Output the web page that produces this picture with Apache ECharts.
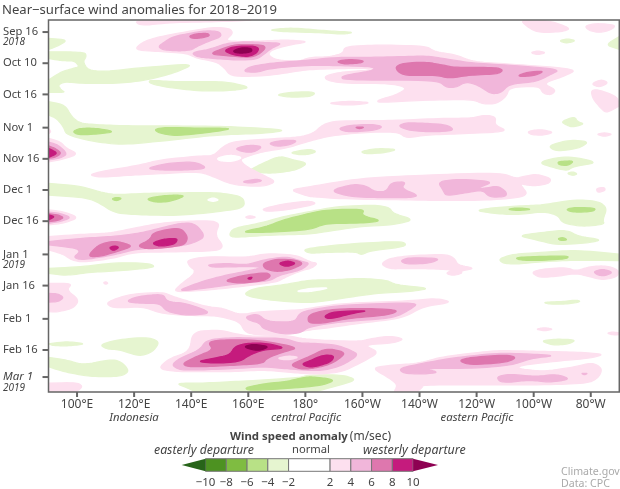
<!DOCTYPE html>
<html><head><meta charset="utf-8">
<style>html,body{margin:0;padding:0;background:#fff}#c{width:620px;height:489px}</style>
<script src="https://cdn.jsdelivr.net/npm/echarts@6/dist/echarts.min.js"></script>
</head><body><div id="c"></div>
<script>
// Axis ticks. Y values are days counted from 16 Sep 2018.
const lonTicks = [100,120,140,160,180,200,220,240,260,280];
const lonLabels = ['100°E','120°E','140°E','160°E','180°','160°W','140°W','120°W','100°W','80°W'];
const dayTicks = [0,15,30,46,61,76,91,107,122,138,153,166];
const dayLabels = ['Sep 16','Oct 10','Oct 16','Nov 1','Nov 16','Dec 1','Dec 16','Jan 1','Jan 16','Feb 1','Feb 16','Mar 1'];
const yearTicks = [5.1,112,171.4];
const yearLabels = ['2018','2019','2019'];
const lonMin = 90, lonMax = 290, dayMin = -5.8, dayMax = 173.2;
// Colour scale
const scaleEdges = [-10,-8,-6,-4,-2,2,4,6,8,10];
const scaleLabels = ['−10','−8','−6','−4','−2','2','4','6','8','10'];
const scaleColors = ['#4d9221','#7fbc41','#b8e186','#e6f5d0','#ffffff','#fde0ef','#f1b6da','#de77ae','#c51b7d'];
const colorLow = '#276419', colorHigh = '#8e0152';

// Contours: each ring is a list of [longitude, day]
const anomalyM2 = [ // -4..-2 m/s
[[90,3],[96.9,3.8],[92.8,7],[90,8.3]],
[[90,9.5],[96.8,9.5],[102.9,9.9],[103.2,11.9],[102.1,14.3],[103.8,18.3],[109.6,19.1],[119.7,17.5],[141.9,15],[133.7,19.9],[124.3,23.1],[115,24.7],[101.5,24.7],[95.6,23.9],[93.3,25.5],[94.5,27.9],[95.9,29],[90,29],[90,23.1],[94.5,19.1],[98.6,17.5],[100.9,16.7],[99.1,13.8],[94.5,13.8],[90,12.7]],
[[125.2,23.1],[133.7,23.9],[143,23.9],[152.4,23.9],[161.1,26.6],[154.7,28.2],[143,28.4],[131.4,26.6],[125.5,24.7]],
[[169.6,30.3],[174.5,29],[181.5,28.7],[183.6,29.5],[181.5,31.1],[174.5,31.4]],
[[166.9,-1],[174.5,-2],[181.5,-1.3],[188.5,-.5],[197.3,.1],[193.2,1.1],[186.2,.3],[172,-.2]],
[[90,33.5],[95.8,35.1],[98.1,40.7],[101,43.9],[108,44.7],[119.7,45.2],[138.4,45.2],[154.7,45.5],[174,47.1],[166.4,48.7],[148.9,49.5],[133.7,51.9],[116.2,54.3],[105.7,52.7],[96.3,49.5],[95.2,45.5],[92.8,41.5],[90,39.9]],
[[174.3,58],[181.5,56.3],[184,57.5],[181.5,58.8],[178,59.1]],
[[160.3,66.4],[165.2,63.1],[171,59.6],[175.7,61.5],[181,63.1],[176.9,66.4],[168.7,68],[162.9,67.5]],
[[199.2,57.5],[204.8,56],[212.4,56.4],[208.3,58],[201.3,58.7]],
[[268.8,4.2],[271.9,3.2],[274.9,4.2],[271.4,5.4]],
[[285.1,6.2],[290,2.2],[290,8.3]],
[[269.6,43.1],[274.3,40.7],[275.4,43.1],[277.8,44.2],[273.7,45.8],[271.4,44.7]],
[[264.9,54.7],[272.5,51.9],[279.5,52.7],[276,55.9],[267.9,57.5]],
[[261.1,62.7],[271.4,59.5],[283,62.7],[273.7,64.8],[271.9,66.7],[267.9,65.6]],
[[271.6,68],[273.7,67.2],[275.4,68.3],[273.7,69.1]],
[[90,72.8],[101,74],[111.5,78.4],[124.3,77.6],[138.4,77.3],[150,77.3],[158.2,79.2],[158.8,84.5],[150,86.4],[136,88.3],[123.2,88],[113.3,87.2],[108,82.4],[103.3,79.7],[90,78.4]],
[[153.3,97.6],[154.7,94.4],[164,92],[172.2,88.8],[181.5,86.4],[190.8,84],[204.8,83.2],[209.5,84.5],[210.7,87.2],[218.3,90.4],[210.7,92.8],[199,93.6],[187.3,96],[181.5,97.3],[168.7,97.6],[154.7,98.9]],
[[179.4,105],[181.5,104],[193.2,102.1],[214.2,100.5],[215.6,103.2],[202.5,105.3],[199.6,107.3],[197.8,105.7],[187.3,106],[181.5,106.5]],
[[239.6,85.9],[245.7,84.5],[257.4,83.5],[263.2,83.2],[274.9,80.5],[283,81.6],[285.7,84.8],[284.2,90.4],[284.8,92.5],[277.2,93.6],[270.2,92],[268.4,88],[263.2,86.4],[253.9,88],[245.7,87.2]],
[[254.4,98],[263.2,96.4],[271.4,95.2],[276,98.4],[284.2,100],[278.4,101.6],[267.9,102.4],[260.9,100]],
[[247.7,109.2],[252.7,106.9],[263.2,106],[274.9,104.9],[290,106.9],[290,110],[274.9,109.7],[263.2,110.5],[253.9,111.7],[249.2,111.3]],
[[90,113.7],[102,112.9],[113.8,110.9],[125.5,111.3],[127.6,113.3],[113.8,115],[104.5,115.6],[96.3,117.2],[90,116.1]],
[[263.2,130],[270.2,129.7],[274.9,128.9],[276.6,129.7],[272.5,130.8],[265.5,131]],
[[262.4,148.6],[267.9,147.7],[274.9,148.1],[272.5,150.1],[266.7,150.7]],
[[188.5,119.3],[199,118.5],[208.3,119.3],[211.8,121.7],[224.1,123.3],[216.5,124.9],[204.8,125.7],[193.2,128.1],[181.5,130.5],[166.4,128.9],[158,126.5],[161.7,123.3],[172.2,121.7],[181.5,119.3]],
[[90,150],[96.3,148.9],[103.3,150],[97.5,151],[91.7,150.9]],
[[108,150.5],[113.8,148.1],[124.3,146.8],[129,148.9],[126.7,153.7],[122,156.1],[115,152.9],[110.3,152.5]],
[[90,156.5],[96.3,157.8],[102.2,160.2],[112.7,157.3],[116.2,159.4],[118.3,163.4],[115,165.8],[104.5,165.8],[95.2,163.4],[90,161]],
[[134.6,169],[143,169],[154.7,168.2],[166.4,167.4],[178,166.2],[181.5,165],[193.2,165],[198.2,167.4],[190.2,170.6],[185,172.5],[181.5,174],[143,174],[138.4,171.1]]
];
const anomalyM4 = [ // -6..-4 m/s
[[98.4,47.9],[101,46.3],[106.8,46.3],[113.3,47.9],[108,49],[100.4,49.5]],
[[126.9,46.8],[131.4,45.8],[143,46.3],[154.7,46.3],[148.9,47.9],[134.9,50],[129,48.7]],
[[268.4,62.3],[274.3,61.9],[272,64.3],[268.8,63.9]],
[[124.1,80.3],[129,78.9],[134.9,78.4],[138,78.9],[132.5,81.6],[127.3,81.9]],
[[112.1,80.3],[113.8,79.5],[115.8,80],[113.8,81.3]],
[[157,96.4],[166.4,93.6],[172.2,90.4],[181.5,87.2],[187.3,85.6],[200.8,85.1],[199.6,88.3],[207.2,90.9],[199,92],[187.3,92],[181.5,95.2],[166.4,96.4]],
[[250.6,85.3],[254.4,84.5],[259.7,85.3],[254.4,85.9]],
[[271.1,85.3],[274.9,84.3],[281.9,84.8],[280.7,86.4],[273.7,86.7]],
[[268.4,99.4],[270.2,98.8],[271.9,100],[269.6,100.4]],
[[253.5,108.5],[260.9,108],[272.5,107.7],[271.4,109.2],[260.9,110],[255,109.7]],
[[158.8,171.1],[166.4,169],[173.4,168.2],[178,166.6],[181.5,165.8],[187.3,166.6],[190.2,167.7],[186.2,169.8],[181.5,170.6],[172.2,171.7],[160,172.5]]
];
const anomalyWhite = [ // holes, -2..2 m/s
[[148.9,60.7],[153.5,59.1],[158.2,60.3],[154.7,62.3],[150,62]],
[[145.4,80.8],[147.7,79.7],[149.8,80.8],[147.7,81.6]],
[[176.3,124.9],[181.5,123.3],[188.5,123],[185,124.1],[181.5,124.9]]
];
const anomalyP2 = [ // 2..4 m/s
[[120,-6],[166,-6],[150,-5],[133,-4.6],[122,-3]],
[[119.9,8.6],[123.2,4.6],[129,2.2],[138.4,-.2],[147.7,-2.3],[153.5,-1.8],[154.7,.6],[151.8,4.2],[158.2,4.6],[166.4,4.2],[173.4,3.8],[181.5,4.6],[174.5,6.2],[168.1,8.6],[166.9,11],[169.9,13.5],[178,14],[181.5,12.2],[188.5,11.9],[193.2,10.2],[193.8,7],[204.8,6.2],[222.3,6.7],[225.3,9.4],[232.8,11],[238.7,14.3],[251.5,15.4],[275.8,17.8],[270.2,21.5],[263.2,24.7],[267.9,27.9],[266.1,30.3],[263.2,29.5],[262,26],[251.5,26.6],[250.4,31.1],[246.8,34.6],[242.2,34.6],[238.7,32.4],[222.3,32.7],[205.4,34],[205.4,32.7],[211.8,30.3],[215.9,26.8],[209.5,24.7],[193.2,24.7],[187.3,23.1],[186.8,21.1],[193.2,19.1],[203.7,18.3],[204.3,17.5],[193.2,17.5],[181.5,18],[175.7,19.1],[168.7,20.7],[158.2,21.5],[153.5,20.7],[151.8,17.5],[148.9,14.3],[141.9,12.6],[138.4,10.2],[129,9.4]],
[[255,-6],[265.5,-5.5],[273.1,-1.8],[270.2,-.2],[262,.3],[258.5,-1.8]],
[[277.8,-2.9],[281.9,-4.2],[288.9,-3.4],[287.1,-1],[283,.3],[279.5,-.7]],
[[258.8,9.9],[261.4,9],[264.4,9.9],[261.4,11]],
[[280.1,25],[283.6,22.8],[286.3,24.4],[283,26.6]],
[[280.1,28.2],[282.4,27.6],[289.4,31.1],[290,35.6],[285.4,39.1],[283,35.9],[280.7,31.9]],
[[187.1,34.3],[195.5,33.2],[203.7,34],[195.5,35.3]],
[[104.3,68.8],[108,67.2],[122,64],[129,61.5],[143,59.6],[147.7,59.6],[151.2,55.1],[154.7,52.7],[165.2,51.6],[181.5,50.3],[187.3,43.1],[199,42.6],[210.7,42.6],[228.2,41.5],[237.5,41.5],[243.4,39.9],[246.8,41],[246.3,44.7],[251.3,47.9],[234,49],[222.3,49.5],[215.3,51.1],[212.4,47.9],[199,48.4],[188.5,50],[181.5,52.4],[173.4,55.9],[165.2,57.5],[159.4,59.9],[157,61.5],[159.4,64.8],[165.2,68.8],[169.9,72],[165.2,74.4],[154.7,73.6],[147.7,69.6],[143,67.2],[131.4,68],[119.7,68.8],[108,69.9]],
[[257.7,47.9],[262,46.8],[267.3,48.2],[263.2,49.7],[259.1,49.4]],
[[281.9,49.2],[284.8,48.4],[287.7,49.2],[284.8,50.3]],
[[90,51.1],[94,52.7],[96.3,55.9],[100.4,58.7],[95.2,61.2],[90,62.4]],
[[90,46.3],[90.9,47.9],[90,49]],
[[281.9,75.2],[284.8,74.7],[285.1,76.3],[282.4,77.3]],
[[174.3,76],[181.5,74.4],[199,70.4],[222.3,68.8],[248,67.6],[253.9,70.4],[256.2,69.6],[260.9,68.3],[266.1,70.4],[265.5,72.8],[260.9,74],[257.4,73.6],[255,72.8],[258.5,78.9],[246.8,80.8],[228.2,81.1],[220,80.8],[193,80.3],[182.7,79.2],[181.5,79.2]],
[[164.6,85.1],[173.4,82.4],[181.5,81.3],[183.8,82.4],[181.5,83.5],[173.4,85.6],[166.4,86.4]],
[[259.1,115.6],[263.2,114],[271.4,113.3],[274.9,115],[279.5,112.9],[285.4,112.4],[289.8,114.5],[289.4,117.7],[284.2,119.3],[279.5,117.7],[274.9,116.1],[269,117.4],[262,118.2]],
[[206.4,111.6],[209.5,108.9],[216.5,107.6],[229.3,106.9],[232.3,108.9],[233.4,112.1],[239.5,113.7],[234.6,114.9],[234.9,116.1],[231.7,117.2],[229.1,116.1],[231.7,114.5],[225.8,114],[216.5,113.7],[209.5,114]],
[[90,85.6],[95.2,86.4],[100.7,89.3],[95.2,92],[90,92.8]],
[[158.8,89.1],[160.5,88.3],[162.9,89.1],[160.5,89.8]],
[[90,98.4],[102,97.3],[111.5,96.8],[119.7,94.4],[129,92],[138.4,90.9],[150.3,90.9],[148.3,97.6],[151.4,103.2],[148.9,105.3],[136,105.7],[119.7,106],[112.7,108.9],[102,110.8],[98.1,109.7],[95.2,106.9],[90,104.8]],
[[90,120.9],[98.4,120.9],[96.3,124.1],[100.8,128.9],[98.7,132.9],[92.8,134.8],[90,134.5]],
[[109.2,120.6],[110.1,120.1],[110.9,120.9],[110,121.4]],
[[138.4,109.7],[145.4,108],[159.4,108.5],[166.4,106.5],[176.9,107.3],[181.5,110.5],[184.4,111.3],[182.1,113.7],[179.2,114.5],[173.4,117.7],[169.9,120.4],[157,122.5],[146.5,124.1],[133.7,125.2],[136,121.7],[140.7,116.9],[141.3,114.5],[139.5,112.9]],
[[110.1,130.5],[113.8,128.1],[119.7,126],[130.2,125.2],[133.7,127.3],[139.5,129.7],[145.4,132.1],[151.2,132.9],[157,136.1],[164,134.5],[178,133.7],[181.5,132.9],[193.2,130.5],[216.5,129.4],[225.8,128.1],[231.7,130],[221.2,132.1],[214.2,137.7],[199,140.1],[187.3,142.5],[181.5,143.3],[172.2,145.7],[162.9,145.7],[158.8,144.4],[157,139.3],[148.9,136.4],[138.4,136.4],[129,135.3],[123.2,132.1],[112.7,132.9]],
[[129,161],[132.5,157],[139.5,153.7],[140.5,144.1],[150,143.3],[157,145.7],[162.9,146.5],[172.2,145.7],[181.5,148.1],[199,148.9],[202.5,147.7],[209.5,146.2],[214.8,147.7],[210.7,149.7],[200.2,150.5],[206,154.1],[200.2,158.6],[193.2,163.4],[186.2,164.5],[181.5,164.5],[174.5,163.7],[165.2,162.6],[154.7,163.4],[143,163.4],[136,163.4],[130.2,162.6]],
[[90,169],[99.8,168.6],[102.2,170.6],[98.7,174],[90,174]],
[[203.4,161.8],[208.3,160.5],[220,159.4],[228.2,156.1],[245.7,153.4],[251.5,153.3],[263.2,153.7],[274.9,154],[285.1,155],[279.5,157],[269,158.2],[256.2,160.2],[253.9,161.8],[263.2,163.4],[274.9,161],[280.5,159],[284,161.8],[283,165.8],[279.5,169],[263.2,169.8],[239.9,169.8],[221.2,169.8],[221,171],[218.3,174],[210.7,174],[212.4,169.8],[209.5,166.6]],
[[260.6,143],[263.8,142.2],[267,143],[263.8,143.8]],
[[285.6,144.9],[287.7,144.3],[290,144.8],[290,145.6],[287.7,145.7]]
];
const anomalyP4 = [ // 4..6 m/s
[[128.4,7],[130.8,4.6],[133.7,2.2],[139.5,.6],[145.4,-.7],[150,-.2],[150.6,2.2],[146.5,4.2],[141.9,7],[140.1,8.6],[136,9.1],[130.2,8.6]],
[[140.1,9.9],[146.5,8.3],[152.4,5.4],[159.4,4.6],[166.4,5.1],[172,5.4],[168.1,7.8],[165.2,11],[162.9,13.1],[156.4,13.5],[147.7,12.7],[141.9,11.9]],
[[158.2,19],[160.5,16.7],[167.5,15],[181.5,13.5],[190.8,12.2],[201.3,12.2],[211.8,11.9],[222.3,11.5],[228.2,12.7],[238.7,15],[251.5,15.9],[269.6,18],[265.5,20.7],[260.9,23.9],[251.5,25],[248.6,29.2],[245.1,29.8],[240.4,25.5],[236.3,23.9],[232.8,26.6],[229.3,26.6],[226.4,23.1],[193.2,23.1],[192.6,21.1],[203.7,18.6],[204.3,16.7],[193.2,16.2],[181.5,15.9],[167.5,17.5],[162.9,19.5]],
[[124.3,65.6],[131.4,63.2],[141.3,62.3],[145.9,65.6],[138.4,66.4],[129,66.4]],
[[155.3,56],[160.5,54.3],[165.2,55.1],[161.7,58],[157.6,57.5]],
[[166.9,53.5],[172.2,52],[177.4,52.2],[174.5,54.3],[169.9,55.1]],
[[157.6,72],[162.9,70.7],[165.2,71.6],[160.5,72.8]],
[[191.7,46.3],[195.5,44.9],[203.7,44.4],[207.2,45.5],[204.8,47.1],[196.7,48.1],[193.2,47.6]],
[[212.4,45.2],[215.3,43.6],[222.3,43.9],[229.9,44.7],[232.3,47.4],[224.7,48.1],[216.5,47.4]],
[[90,53],[93.4,54.3],[96.7,58.7],[94,60.7],[90,61.5]],
[[188.5,76.3],[196.7,73.2],[201.3,74],[204.3,76.8],[208.3,76.8],[210.1,72.4],[215.3,72],[213.6,75.2],[219.8,78.7],[216.5,79.7],[206,79.7],[195.5,79.2]],
[[226.4,72],[234,70.7],[246.3,72],[239.9,75.2],[242.8,75.2],[247.4,74],[250.4,76.8],[250.4,79.2],[244.5,79.5],[242.2,76],[236.3,77.3],[229.3,78.9],[228.2,76]],
[[280.9,115.3],[284.2,114],[287.9,115.6],[284.8,117.4],[282.4,116.9]],
[[213.2,110],[216.5,108.5],[227.6,108.9],[223.5,111.3],[215.3,111.7]],
[[90,86.7],[94,87.2],[98.1,89.3],[94,91.2],[90,92]],
[[90,100.8],[102,99.2],[112.7,98.4],[122,96.8],[129,94.4],[136,92],[141.3,92],[145.1,98.4],[140.7,101.6],[134.9,103.2],[120.8,104.4],[112.7,107.3],[102,109.7],[98.7,108.5],[101,105.7],[99.8,104],[90,102.4]],
[[90,125.7],[93.4,126],[95.4,127.8],[93.4,129.7],[90,130]],
[[145.4,112],[152.4,111.3],[159.4,112.1],[165.2,109.7],[173.4,108],[179.2,110.5],[181.5,111.3],[178.6,114.5],[171,116.9],[167.5,119.8],[157,120.9],[146.5,123],[134.3,124.9],[144.2,119.8],[152.4,116.9],[161.7,114.5],[165.2,112.9],[154.7,112.9],[147.7,113.2]],
[[117.1,129.7],[120.8,127.3],[130.2,126],[131.4,129.7],[138.4,130.5],[147.7,135.3],[138.4,136.4],[131.4,134.5],[129,130.5],[122,130.5]],
[[159.1,136.9],[163.4,135.6],[166.4,139.3],[176.3,139.6],[178,135.3],[181.5,133.7],[193.2,131.3],[220,130],[216.5,133.7],[210.7,137.7],[193.2,139.3],[181.5,141.7],[178,144.9],[172.2,145.4],[165.2,142.8],[164,140.1],[160,138.5]],
[[133.1,160.2],[136,157],[143,152.9],[145.4,148.1],[154.7,147],[162.9,147.3],[172.2,147.3],[178,149.7],[181.5,149.7],[190.8,150.5],[195.5,152.9],[198.8,155.3],[193.2,160.2],[187.3,162.6],[181.5,162.9],[174.5,162.1],[165.2,161],[157,161.8],[143,162.6],[136,162.6]],
[[212.8,161.8],[221.2,159.4],[230.5,157],[246.8,154.5],[258.5,154.9],[267.9,155.7],[259.1,157],[252.7,160.2],[239.9,161.8],[221.2,161.8],[227,163.8],[221.2,164.6],[214.2,164.2]],
[[247.1,165.8],[251.5,164.6],[260.9,165.8],[267.9,164.6],[273.1,167],[265.5,168.6],[258.5,167.4],[251.5,168.6],[248,168.2]],
[[276.6,164.2],[279,164.2],[277.8,165]]
];
const anomalyP6 = [ // 6..8 m/s
[[139.3,1.9],[141.9,.8],[145.9,.6],[146.5,1.9],[143,3],[140.1,3]],
[[146.3,10.6],[151.2,7.8],[155.9,5.9],[165.2,6.2],[166.1,7.8],[163.4,11],[160.5,12.2],[153.5,11.5]],
[[190.8,14.1],[195.5,13.1],[200.8,13.9],[199,15],[193.2,15.4]],
[[211.6,16.7],[214.2,15],[222.3,14.4],[228.2,15.9],[232.8,17.1],[246.8,17],[249.4,18.3],[247.4,20.2],[237.5,20.7],[230.5,22.3],[225.8,20.7],[215.3,21],[212.4,19.1]],
[[254.4,21],[257.4,19.4],[263.8,18.7],[260.9,20.7],[256.2,21.5]],
[[197.3,45.8],[200.8,45.7],[199,46.6]],
[[90,54.8],[92.3,55.9],[94.6,58.3],[92.3,60.3],[90,60.7]],
[[90,87.4],[93.4,88],[95.4,89.3],[93.4,90.6],[90,91.2]],
[[103.6,108],[107.4,102.4],[112.7,100.5],[116.8,101.6],[119.4,103.2],[113.8,105.7],[108,108]],
[[121.1,102.8],[125.5,100],[126.7,96.4],[136,93.9],[138.9,98.4],[137.8,102.4],[131.4,103.7],[124.3,104.4]],
[[165,111.3],[169.9,109.2],[176.9,109.7],[179.4,111.6],[174.5,114.5],[169.9,115.3],[165.8,114]],
[[151.4,119.8],[157,117.4],[166.4,115.6],[168.1,117.4],[165.2,119.8],[157,120.9]],
[[181,136.1],[187.3,133.7],[199,132.9],[213,133.7],[209.5,136.1],[195.5,137.7],[186.2,140.1],[181,140.1]],
[[137,159.4],[141.9,156.1],[147.7,152.9],[145.9,149.3],[150,148.1],[162.9,148.1],[178,151.8],[172.2,154],[166.4,157],[165.2,159.4],[157,160.2],[145.4,161],[138.4,161]],
[[174.8,160.2],[178,158.1],[181.5,156.1],[187.3,152.1],[194.3,154.1],[191.4,157.8],[187.3,160.5],[181.5,162.1],[178,162.1]],
[[233.7,158.1],[237.5,156.6],[250.4,155.3],[254.1,156.6],[250.4,159],[237.5,160.2]]
];
const anomalyP8 = [ // 8..10 m/s
[[151.4,9],[154.7,7],[161.7,6.6],[163.8,7.8],[162.9,10.2],[160,11.9],[154.7,11]],
[[90,56],[93.4,58.3],[90,60.3]],
[[90,88],[92.3,88.8],[90,90.4]],
[[111.2,103.7],[113.3,102.8],[114.8,103.7],[112.7,105.3]],
[[126.1,101.6],[130.2,99.6],[135.4,99.2],[134.3,102.1],[129,103.2]],
[[170.4,111.3],[173.9,110],[176.9,111.3],[173.4,113]],
[[159.6,118.5],[161.5,117.8],[160.8,119.1]],
[[186.4,136.9],[189.7,134.5],[202.5,134],[196.7,135.3],[188.5,138.2]],
[[141.9,158.6],[147.7,157],[153.5,155.4],[155.3,151.3],[159.4,149.7],[166.4,149.7],[173.4,152.1],[165.2,152.9],[160.5,155.4],[157,158.6],[148.9,159.4]],
[[178.6,159.8],[181.5,158.2],[186.2,155.4],[190.2,155.7],[189.1,158.6],[185,160.5],[181.5,161.4]]
];
const anomalyP10 = [ // above 10 m/s
[[154.7,9],[157.6,7.5],[161.1,7.8],[161.3,9.4],[158.2,10.2],[155.3,9.9]],
[[158.5,151.3],[161.7,150.2],[167.5,151.3],[164,153.3],[160.5,152.6]]
];
const anomalyHoleP2 = [ // 2..4 m/s pocket inside the February maximum
[[169.9,157],[174,155.8],[178,156.5],[173.4,157.9]]
];

const layers = [
  [anomalyM2,'#e6f5d0'],[anomalyM4,'#b8e186'],[anomalyP2,'#fde0ef'],[anomalyWhite,'#ffffff'],
  [anomalyP4,'#f1b6da'],[anomalyP6,'#de77ae'],[anomalyP8,'#c51b7d'],[anomalyP10,'#8e0152'],[anomalyHoleP2,'#fde0ef']
];
const FONT = '"Noto Sans"';
const INK = '#444';

// Round the corners of a ring by corner cutting; vertices on the plot edge stay put.
function rounded(ring){
  let pts = ring;
  const onEdge = p => p[0]<=lonMin || p[0]>=lonMax;
  for(let n=0;n<3;n++){
    const out=[];
    pts.forEach((a,i)=>{
      const b=pts[(i+1)%pts.length];
      out.push(onEdge(a)?a:[a[0]*.78+b[0]*.22,a[1]*.78+b[1]*.22]);
      out.push(onEdge(b)?b:[a[0]*.22+b[0]*.78,a[1]*.22+b[1]*.78]);
    });
    pts=out;
  }
  return pts;
}

const contourSeries = layers.map(([rings,color],k)=>({
  type:'custom', coordinateSystem:'cartesian2d', xAxisIndex:0, yAxisIndex:0, silent:true, clip:true, z:2+k*0.01,
  data:rings.map((r,i)=>[r[0][0],r[0][1],i]),
  encode:{x:0,y:1},
  renderItem:(params,api)=>({
    type:'polygon',
    shape:{points:rounded(rings[api.value(2)]).map(p=>api.coord(p))},
    style:{fill:color,stroke:color,lineWidth:1.3,lineJoin:'round'}
  })
}));

// Tick marks of both plot axes
const tickBase = {type:'scatter', coordinateSystem:'cartesian2d', xAxisIndex:0, yAxisIndex:0, silent:true, clip:false, z:20, symbol:'rect', itemStyle:{color:'#666',opacity:1}};
const dayTickSeries = Object.assign({},tickBase,{data:dayTicks.map(d=>[lonMin,d]),symbolSize:[6,2],symbolOffset:[-3,0]});
const lonTickSeries = Object.assign({},tickBase,{data:lonTicks.map(l=>[l,dayMax]),symbolSize:[2,5],symbolOffset:[0,2.5]});

const scaleSeries = {
  type:'custom', coordinateSystem:'cartesian2d', xAxisIndex:1, yAxisIndex:2, silent:true,
  data:scaleColors.map((c,i)=>[scaleEdges[i],scaleEdges[i+1],i]),
  encode:{x:[0,1]},
  renderItem:(params,api)=>{
    const a=api.coord([api.value(0),1]), b=api.coord([api.value(1),0]);
    return {type:'rect',shape:{x:a[0],y:a[1],width:b[0]-a[0],height:b[1]-a[1]},
      style:{fill:scaleColors[api.value(2)],stroke:'#777',lineWidth:1}};
  }
};
const scaleEnds = {
  type:'custom', coordinateSystem:'cartesian2d', xAxisIndex:1, yAxisIndex:2, silent:true,
  data:[[-12.3,-10,0],[12.4,10,1]],
  encode:{x:[0,1]},
  renderItem:(params,api)=>{
    const tip=api.coord([api.value(0),0.5]),t=api.coord([api.value(1),1]),b=api.coord([api.value(1),0]);
    return {type:'polygon',shape:{points:[tip,t,b]},style:{fill:api.value(2)?colorHigh:colorLow}};
  }
};

const txt=(x,y,text,o={})=>({type:'text',x,y,silent:true,style:Object.assign({text,fill:INK,font:'12px '+FONT,textAlign:'left',textVerticalAlign:'middle'},o)});

const chart = echarts.init(document.getElementById('c'),null,{renderer:'canvas'});
chart.setOption({
  animation:false,
  backgroundColor:'#fff',
  grid:[
    {left:48.5,right:0.7,top:20,bottom:97,show:true,z:10,borderColor:'#666',borderWidth:1.5,backgroundColor:'transparent'},
    {left:181.7,width:256.3,top:458.7,height:12.6,show:false}
  ],
  xAxis:[
    {type:'value',gridIndex:0,position:'bottom',min:lonMin,max:lonMax,splitLine:{show:false},
     axisLine:{show:false,onZero:false},axisTick:{show:false},
     axisLabel:{customValues:lonTicks,margin:7,color:INK,fontSize:12,fontFamily:FONT,
       formatter:v=>lonLabels[lonTicks.indexOf(v)]}},
    {type:'value',gridIndex:1,position:'bottom',min:-12.3,max:12.4,splitLine:{show:false},axisLine:{show:false,onZero:false},axisTick:{show:false},
     axisLabel:{customValues:scaleEdges,margin:5,color:INK,fontSize:11.5,fontFamily:FONT,showMinLabel:true,showMaxLabel:true,hideOverlap:false,
       formatter:v=>scaleLabels[scaleEdges.indexOf(v)]}}
  ],
  yAxis:[
    {type:'value',gridIndex:0,position:'left',inverse:true,min:dayMin,max:dayMax,splitLine:{show:false},axisLine:{show:false,onZero:false},
     axisTick:{show:false},
     axisLabel:{customValues:dayTicks,align:'left',margin:45.5,color:INK,fontSize:11.2,fontFamily:FONT,
       formatter:v=>{const s=dayLabels[dayTicks.indexOf(v)];return s==='Mar 1'?'{i|'+s+'}':s;},
       rich:{i:{fontStyle:'italic',fontSize:11.5,fontFamily:FONT,color:INK}}}},
    {type:'value',gridIndex:0,position:'left',inverse:true,min:dayMin,max:dayMax,splitLine:{show:false},axisLine:{show:false,onZero:false},axisTick:{show:false},
     axisLabel:{customValues:yearTicks,align:'left',margin:45.5,color:INK,fontSize:10,fontStyle:'italic',fontFamily:FONT,
       formatter:v=>yearLabels[yearTicks.indexOf(v)]}},
    {type:'value',gridIndex:1,min:0,max:1,show:false}
  ],
  series:[...contourSeries,dayTickSeries,lonTickSeries,scaleSeries,scaleEnds],
  graphic:[
    txt(2,10,'Near−surface wind anomalies for 2018−2019',{font:'13.1px '+FONT}),
    txt(134,418,'Indonesia',{font:'italic 11.3px '+FONT,textAlign:'center'}),
    txt(306,418,'central Pacific',{font:'italic 11.3px '+FONT,textAlign:'center'}),
    txt(477,418,'eastern Pacific',{font:'italic 11.3px '+FONT,textAlign:'center'}),
    txt(230,437,'Wind speed anomaly',{font:'bold 11.4px '+FONT}),
    txt(391,437,'(m/sec)',{textAlign:'right'}),
    txt(154,450,'easterly departure',{font:'italic 12.3px '+FONT}),
    txt(292,450,'normal',{font:'11.2px '+FONT}),
    txt(363,450,'westerly departure',{font:'italic 12.4px '+FONT}),
    txt(561,472,'Climate.gov',{fill:'#aaa',font:'10.6px '+FONT}),
    txt(561,484,'Data: CPC',{fill:'#aaa',font:'10.6px '+FONT})
  ]
});
</script></body></html>
